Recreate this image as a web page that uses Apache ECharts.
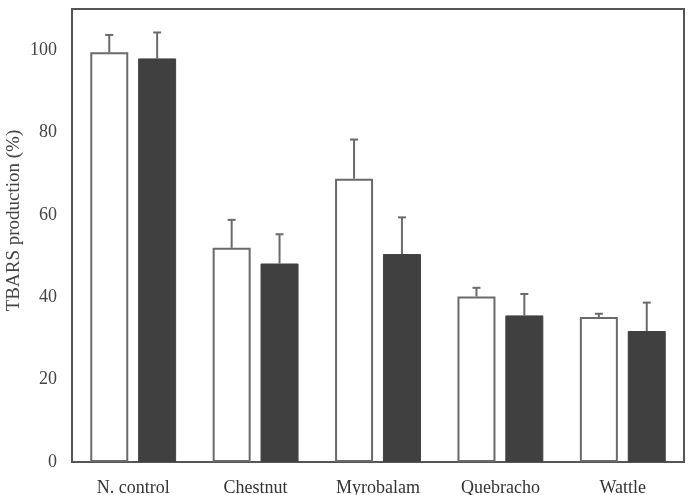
<!DOCTYPE html>
<html>
<head>
<meta charset="utf-8">
<script src="https://cdn.jsdelivr.net/npm/echarts@6/dist/echarts.min.js"></script>
<style>html,body{margin:0;padding:0;background:#fff;}#c{width:689px;height:495px;}</style>
</head>
<body>
<div id="c"></div>
<script>
var categories = ['N. control', 'Chestnut', 'Myrobalam', 'Quebracho', 'Wattle'];
var whiteValues = [99.5, 52.0, 68.8, 40.2, 35.2];
var whiteErrors = [4.2, 6.8, 9.5, 2.1, 0.8];
var darkValues = [98.0, 48.2, 50.5, 35.6, 31.8];
var darkErrors = [6.3, 7.1, 8.9, 5.2, 6.9];
var yTicks = [0, 20, 40, 60, 80, 100];

var BAR_W = 38;
var GAP = '26%';
var FONT = '"Liberation Serif", "DejaVu Serif", serif';

function errorSeries(values, errors, side) {
  var data = values.map(function (v, i) { return [i, v, v + errors[i]]; });
  return {
    type: 'custom',
    z: 1,
    data: data,
    renderItem: function (params, api) {
      var idx = api.value(0);
      var base = api.coord([idx, api.value(1)]);
      var top = api.coord([idx, api.value(2)]);
      var gapPx = BAR_W * 0.26;
      var off = side * (BAR_W + gapPx) / 2;
      var x = base[0] + off;
      var style = { stroke: '#6a6a6a', lineWidth: 2 };
      return {
        type: 'group',
        children: [
          { type: 'line', shape: { x1: x, y1: base[1], x2: x, y2: top[1] }, style: style },
          { type: 'line', shape: { x1: x - 4, y1: top[1], x2: x + 4, y2: top[1] }, style: style }
        ]
      };
    }
  };
}

var chart = echarts.init(document.getElementById('c'), null, { renderer: 'canvas' });
chart.setOption({
  animation: false,
  backgroundColor: '#fff',
  grid: {
    left: 72, right: 5, top: 9, bottom: 33,
    containLabel: false, outerBoundsMode: 'none',
    show: true, borderColor: '#555', borderWidth: 2, backgroundColor: 'transparent'
  },
  xAxis: {
    type: 'category',
    data: categories,
    axisLine: { show: true, lineStyle: { color: '#555', width: 2 } },
    axisTick: { show: false },
    axisLabel: { color: '#333', fontFamily: FONT, fontSize: 18, margin: 17 }
  },
  yAxis: {
    type: 'value',
    min: 0, max: 110, interval: 20,
    splitLine: { show: false },
    axisLine: { show: false },
    axisTick: { show: false },
    axisLabel: {
      color: '#444', fontFamily: FONT, fontSize: 18, margin: 15, showMaxLabel: false,
      formatter: function (v) { return yTicks.indexOf(v) >= 0 ? String(v) : ''; }
    },
    name: 'TBARS production (%)',
    nameLocation: 'middle',
    nameGap: 48,
    nameMoveOverlap: false,
    nameTextStyle: { color: '#444', fontFamily: FONT, fontSize: 19, padding: [0, 0, 0, 30] }
  },
  series: [
    {
      type: 'bar', data: whiteValues, barWidth: BAR_W, barGap: GAP, z: 2,
      itemStyle: { color: '#fff', borderColor: '#6a6a6a', borderWidth: 2 }
    },
    {
      type: 'bar', data: darkValues, barWidth: BAR_W, z: 2,
      itemStyle: { color: '#404040', borderColor: '#404040', borderWidth: 1 }
    },
    errorSeries(whiteValues, whiteErrors, -1),
    errorSeries(darkValues, darkErrors, 1)
  ]
});
</script>
</body>
</html>
